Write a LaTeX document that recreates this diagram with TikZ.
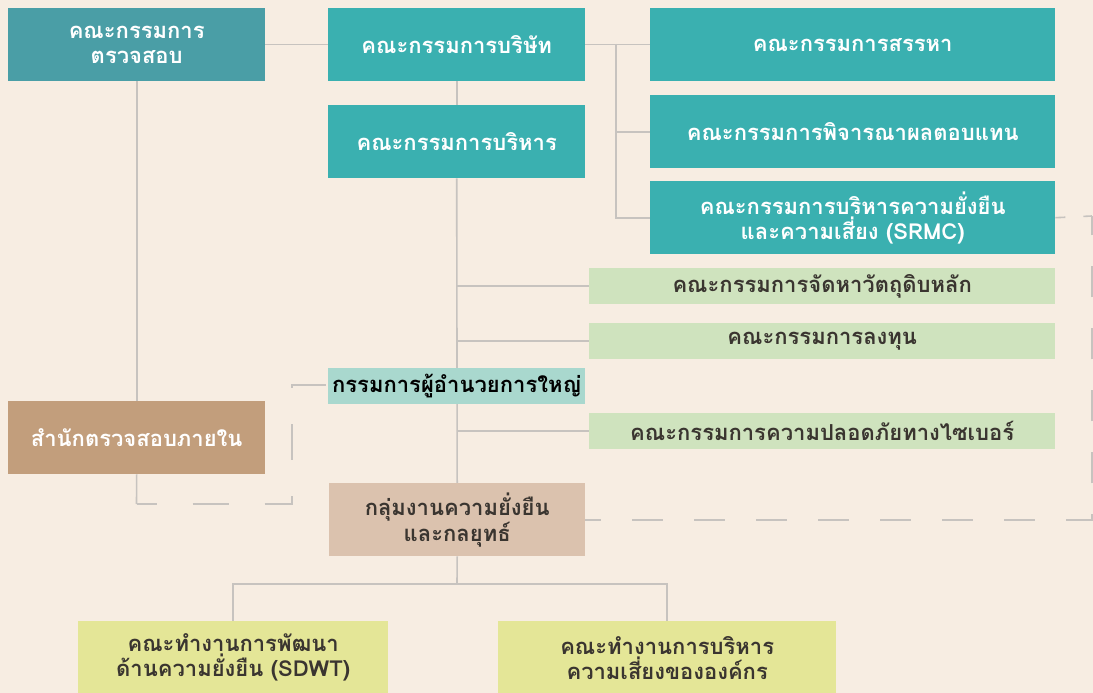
\documentclass[tikz,border=0pt]{standalone}
\usepackage{fontspec}
\newfontfamily\thaifont[Script=Thai]{Loma}
\usetikzlibrary{backgrounds}
\definecolor{bgc}{HTML}{F7EDE2}
\definecolor{tealA}{HTML}{3AB0B0}
\definecolor{tealB}{HTML}{4A9EA6}
\definecolor{lgreen}{HTML}{CFE3BE}
\definecolor{mint}{HTML}{A9D8CE}
\definecolor{brownA}{HTML}{C29E7C}
\definecolor{brownB}{HTML}{DBC2AE}
\definecolor{yel}{HTML}{E4E697}
\definecolor{linec}{HTML}{C7C3BF}
\definecolor{darktxt}{HTML}{3A3530}
\tikzset{
  box/.style={rectangle, inner sep=0pt, anchor=north west, align=center,
    font={\thaifont\bfseries\fontsize{22}{25}\selectfont}},
  tbox/.style={box, fill=tealA, text=white},
  abox/.style={box, fill=tealB, text=white},
  gbox/.style={box, fill=lgreen, text=darktxt},
  mbox/.style={box, fill=mint, text=black},
  bbox/.style={box, fill=brownA, text=white},
  cbox/.style={box, fill=brownB, text=darktxt},
  ybox/.style={box, fill=yel, text=darktxt},
  conn/.style={draw=linec, line width=1.6pt},
  dconn/.style={conn, dash pattern=on 31pt off 31pt}
}
\begin{document}
\begin{tikzpicture}[x=1pt,y=-1pt]
\useasboundingbox (0,0) rectangle (1093,693);
% nodes
\node[abox, minimum width=257, minimum height=73] (audit) at (8,8) {คณะกรรมการ\\ตรวจสอบ};
\node[tbox, minimum width=257, minimum height=73] (board) at (328,8) {คณะกรรมการบริษัท};
\node[tbox, minimum width=257, minimum height=73] (exec) at (328,105) {คณะกรรมการบริหาร};
\node[tbox, minimum width=405, minimum height=73] (nom) at (650,8) {คณะกรรมการสรรหา};
\node[tbox, minimum width=405, minimum height=73] (comp) at (650,95) {คณะกรรมการพิจารณาผลตอบแทน};
\node[tbox, minimum width=405, minimum height=73] (srmc) at (650,181) {คณะกรรมการบริหารความยั่งยืน\\และความเสี่ยง (SRMC)};
\node[gbox, minimum width=466, minimum height=36] (proc) at (589,268) {คณะกรรมการจัดหาวัตถุดิบหลัก};
\node[gbox, minimum width=466, minimum height=36] (inv) at (589,323) {คณะกรรมการลงทุน};
\node[mbox, minimum width=257, minimum height=36] (ceo) at (328,368) {กรรมการผู้อำนวยการใหญ่};
\node[gbox, minimum width=466, minimum height=36] (cyber) at (589,413) {คณะกรรมการความปลอดภัยทางไซเบอร์};
\node[bbox, minimum width=257, minimum height=73] (ia) at (8,401) {สำนักตรวจสอบภายใน};
\node[cbox, minimum width=256, minimum height=73] (grp) at (329,483) {กลุ่มงานความยั่งยืน\\และกลยุทธ์};
\node[ybox, minimum width=310, minimum height=73] (sdwt) at (78,621) {คณะทำงานการพัฒนา\\ด้านความยั่งยืน (SDWT)};
\node[ybox, minimum width=338, minimum height=73] (erm) at (498,621) {คณะทำงานการบริหาร\\ความเสี่ยงขององค์กร};
\coordinate (j1) at (616,44);
\coordinate (iaturn) at (136.5,504);
\coordinate (dl) at (292,385);
\coordinate (dr) at (1092,216);
\coordinate (b1) at (457,584);
\begin{scope}[on background layer]
\fill[bgc] (0,0) rectangle (1093,693);
\draw[conn] (audit.east) -- (board.west);
\draw[conn] (board.east) -- (nom.west);
\draw[conn] (j1) |- (comp.west);
\draw[conn] (j1) |- (srmc.west);
\draw[conn] (board.south) -- (exec.north);
\draw[conn] (exec.south) -- (grp.north);
\draw[conn] (exec.south |- proc.west) -- (proc.west);
\draw[conn] (exec.south |- inv.west) -- (inv.west);
\draw[conn] (exec.south |- cyber.west) -- (cyber.west);
\draw[conn] (audit.south) -- (ia.north);
\draw[conn] (ia.south) -- (iaturn);
\draw[conn, dash pattern=on 36pt off 36pt, dash phase=16pt] (iaturn) -| (dl) -- (dl -| ceo.west);
\draw[conn, dash pattern=on 10pt off 18pt] (srmc.east) -- (dr);
\draw[dconn, dash phase=15pt] (grp.east) -- (grp.east -| dr) -- (dr);
\draw[conn] (grp.south) -- (b1);
\draw[conn] (sdwt.north) |- (b1) -| (erm.north);
\end{scope}
\end{tikzpicture}
\end{document}
